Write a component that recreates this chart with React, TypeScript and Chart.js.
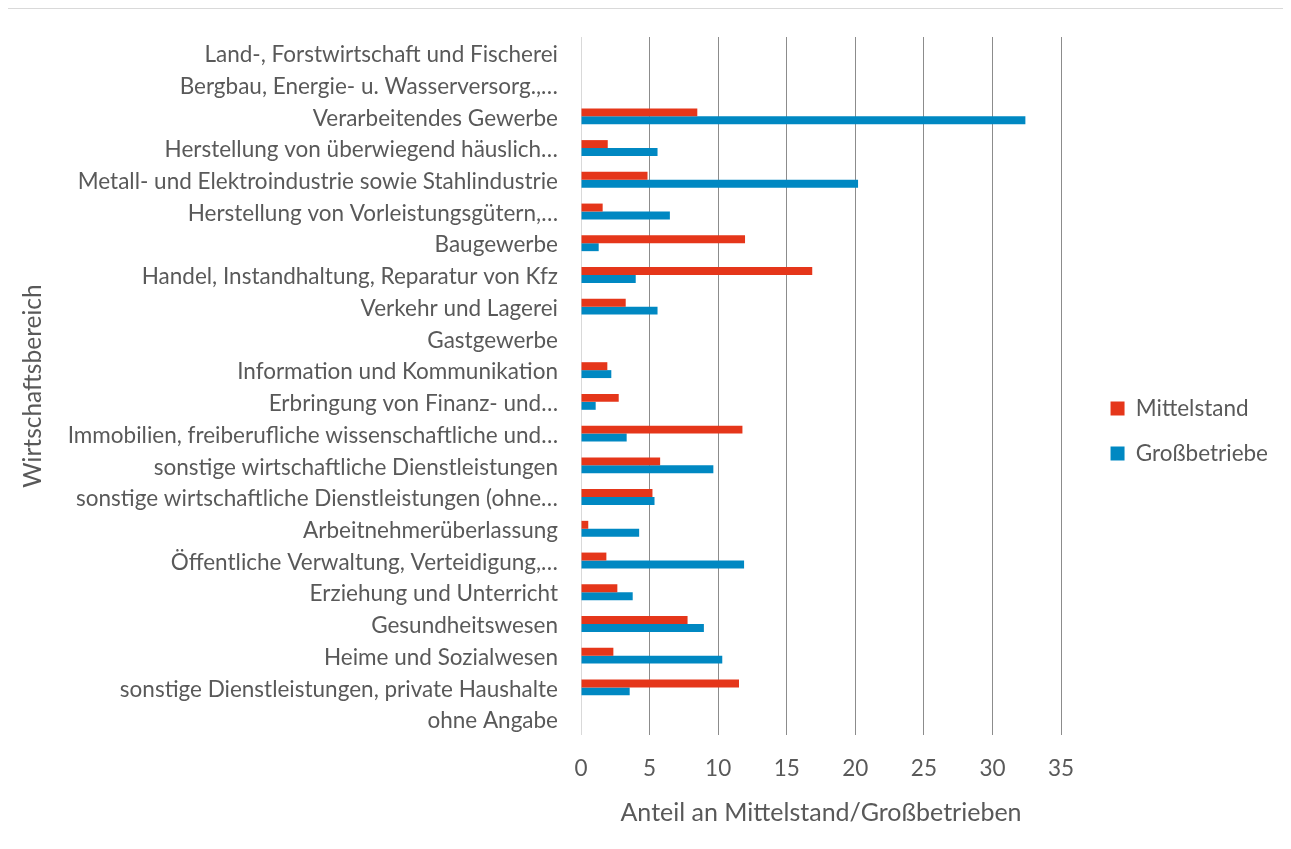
import React, { useEffect, useRef } from 'react';
import { Chart, registerables } from 'chart.js';

Chart.register(...registerables);

const categories: string[] = [
  'Land-, Forstwirtschaft und Fischerei',
  'Bergbau, Energie- u. Wasserversorg.,…',
  'Verarbeitendes Gewerbe',
  'Herstellung von überwiegend häuslich…',
  'Metall- und Elektroindustrie sowie Stahlindustrie',
  'Herstellung von Vorleistungsgütern,…',
  'Baugewerbe',
  'Handel, Instandhaltung, Reparatur von Kfz',
  'Verkehr und Lagerei',
  'Gastgewerbe',
  'Information und Kommunikation',
  'Erbringung von Finanz- und…',
  'Immobilien, freiberufliche wissenschaftliche und…',
  'sonstige wirtschaftliche Dienstleistungen',
  'sonstige wirtschaftliche Dienstleistungen (ohne…',
  'Arbeitnehmerüberlassung',
  'Öffentliche Verwaltung, Verteidigung,…',
  'Erziehung und Unterricht',
  'Gesundheitswesen',
  'Heime und Sozialwesen',
  'sonstige Dienstleistungen, private Haushalte',
  'ohne Angabe',
];

const mittelstand: (number | null)[] = [
  null, null, 8.48, 1.95, 4.85, 1.58, 11.96, 16.86, 3.26, null, 1.92, 2.75,
  11.77, 5.77, 5.21, 0.53, 1.85, 2.65, 7.77, 2.36, 11.52, null,
];

const grossbetriebe: (number | null)[] = [
  null, null, 32.4, 5.58, 20.2, 6.48, 1.29, 3.99, 5.58, null, 2.21, 1.07,
  3.33, 9.65, 5.36, 4.24, 11.89, 3.77, 8.96, 10.3, 3.55, null,
];

const xTickValues: number[] = [0, 5, 10, 15, 20, 25, 30, 35];

const seriesNames = ['Mittelstand', 'Großbetriebe'];
const seriesColors = ['#E5361A', '#0088C2'];

const FONT = 'Lato, "Open Sans", sans-serif';
const TEXT = '#595959';

export default function App() {
  const ref = useRef<HTMLCanvasElement | null>(null);

  useEffect(() => {
    if (!ref.current) return;
    const chart = new Chart(ref.current, {
      type: 'bar',
      data: {
        labels: categories,
        datasets: [
          {
            label: seriesNames[0],
            data: mittelstand,
            backgroundColor: seriesColors[0],
            borderWidth: 0,
            barPercentage: 1,
            categoryPercentage: 0.5,
          },
          {
            label: seriesNames[1],
            data: grossbetriebe,
            backgroundColor: seriesColors[1],
            borderWidth: 0,
            barPercentage: 1,
            categoryPercentage: 0.5,
          },
        ],
      },
      options: {
        indexAxis: 'y',
        animation: false,
        responsive: false,
        maintainAspectRatio: false,
        layout: { padding: { top: 29, right: 13, bottom: 24, left: 0 } },
        plugins: {
          tooltip: { enabled: false },
          legend: {
            position: 'right',
            labels: {
              boxWidth: 14,
              boxHeight: 14,
              padding: 22.5,
              color: TEXT,
              font: { family: FONT, size: 22.5 },
            },
          },
        },
        scales: {
          x: {
            type: 'linear',
            min: 0,
            max: 35,
            afterBuildTicks: (scale: any) => {
              scale.ticks = xTickValues.map((v) => ({ value: v }));
            },
            afterFit: (scale: any) => {
              scale.height = 90;
            },
            grid: {
              drawTicks: false,
              color: (ctx: any) => (ctx.tick && ctx.tick.value === 0 ? '#D9D9D9' : '#8C8C8C'),
              lineWidth: 1,
            },
            border: { display: false },
            ticks: {
              padding: 20,
              color: TEXT,
              font: { family: FONT, size: 22.5 },
            },
            title: {
              display: true,
              text: 'Anteil an Mittelstand/Großbetrieben',
              color: TEXT,
              font: { family: FONT, size: 25 },
              padding: { top: 0, bottom: -3 },
            },
          },
          y: {
            type: 'category',
            afterFit: (scale: any) => {
              scale.width = 573;
            },
            grid: {
              display: true,
              drawOnChartArea: false,
              drawTicks: true,
              tickLength: 23,
              color: 'rgba(0,0,0,0)',
            },
            border: { display: false },
            ticks: {
              autoSkip: false,
              padding: 0,
              labelOffset: 2,
              color: TEXT,
              font: { family: FONT, size: 22.5 },
            },
            title: {
              display: true,
              text: 'Wirtschaftsbereich',
              color: TEXT,
              font: { family: FONT, size: 24.5 },
              padding: { top: 10, bottom: 0 },
            },
          },
          gap: {
            type: 'linear',
            position: 'right',
            display: true,
            grid: { display: false, drawTicks: false },
            border: { display: false },
            ticks: { display: false },
            afterFit: (scale: any) => {
              scale.width = 27;
            },
          },
        },
      },
    });
    return () => chart.destroy();
  }, []);

  return (
    <div style={{ width: 1283, height: 841, position: 'relative' }}>
      <div
        style={{
          position: 'absolute',
          left: -1,
          top: 0,
          width: 1283,
          height: 841,
          border: '1px solid #D9D9D9',
          borderRight: 'none',
          borderBottom: 'none',
          boxSizing: 'border-box',
          pointerEvents: 'none',
        }}
      />
      <canvas ref={ref} width={1283} height={841} style={{ display: 'block' }} />
    </div>
  );
}
